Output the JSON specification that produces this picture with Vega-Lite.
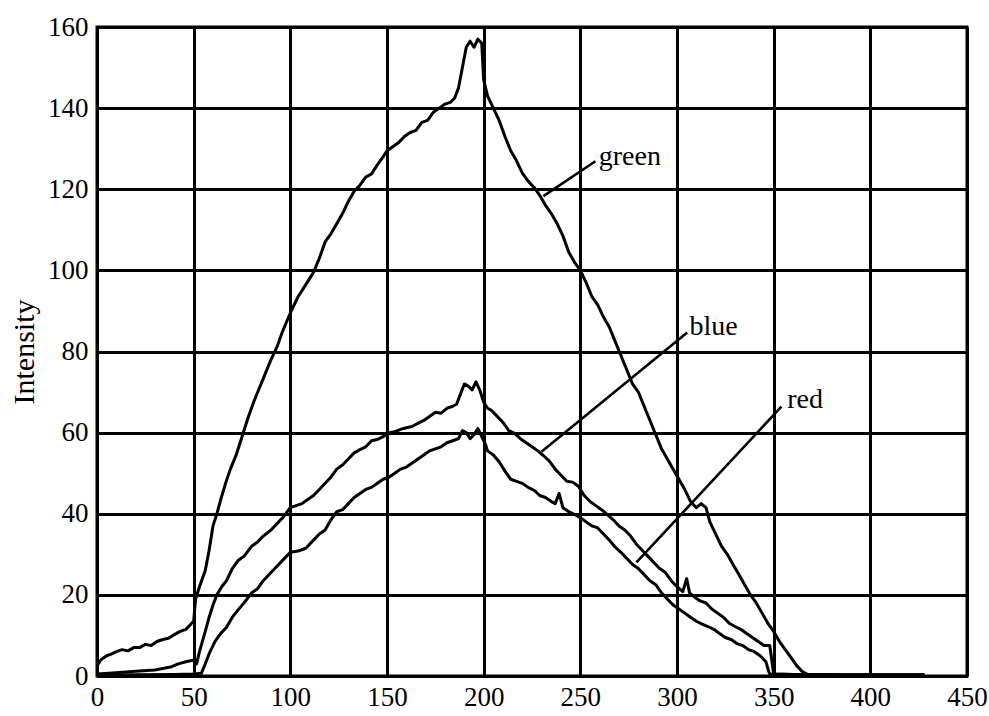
{
  "$schema": "https://vega.github.io/schema/vega-lite/v6.json",
  "width": 870,
  "height": 649,
  "autosize": "none",
  "padding": {"left": 97, "top": 27, "right": 22, "bottom": 40},
  "background": "white",
  "config": {
    "view": {"stroke": "black", "strokeWidth": 3},
    "font": "Liberation Serif",
    "axis": {
      "grid": true,
      "gridColor": "black",
      "gridWidth": 3,
      "gridOpacity": 1,
      "domainColor": "black",
      "domainWidth": 3,
      "ticks": false,
      "tickSize": 0,
      "labelFont": "Liberation Serif",
      "labelFontSize": 27,
      "labelColor": "black",
      "titleFont": "Liberation Serif",
      "titleFontSize": 30,
      "titleFontWeight": "normal",
      "titleColor": "black"
    }
  },
  "datasets": {
    "curves": [
      {"s":"green","x":0,"y":2.5},{"s":"green","x":2,"y":4},{"s":"green","x":5,"y":5},{"s":"green","x":8,"y":5.5},{"s":"green","x":10,"y":6},{"s":"green","x":13,"y":6.5},{"s":"green","x":16,"y":6.2},{"s":"green","x":19,"y":7},{"s":"green","x":22,"y":7},{"s":"green","x":25,"y":7.8},{"s":"green","x":28,"y":7.5},{"s":"green","x":31,"y":8.5},{"s":"green","x":34,"y":9},{"s":"green","x":37,"y":9.3},{"s":"green","x":40,"y":10.2},{"s":"green","x":43,"y":11},{"s":"green","x":46,"y":11.5},{"s":"green","x":49,"y":13},{"s":"green","x":50,"y":13.5},{"s":"green","x":51,"y":19},{"s":"green","x":53,"y":22},{"s":"green","x":56,"y":26},{"s":"green","x":58,"y":31},{"s":"green","x":60,"y":37},{"s":"green","x":62,"y":40},{"s":"green","x":64,"y":43.5},{"s":"green","x":66.5,"y":47.5},{"s":"green","x":69,"y":51},{"s":"green","x":72,"y":54.5},{"s":"green","x":75,"y":59},{"s":"green","x":78,"y":63.5},{"s":"green","x":81,"y":67.5},{"s":"green","x":84,"y":71},{"s":"green","x":87,"y":74.5},{"s":"green","x":90,"y":78},{"s":"green","x":93,"y":81},{"s":"green","x":96,"y":85},{"s":"green","x":100,"y":89.5},{"s":"green","x":104,"y":93.5},{"s":"green","x":108,"y":96.5},{"s":"green","x":112,"y":99.5},{"s":"green","x":115,"y":103},{"s":"green","x":118,"y":107},{"s":"green","x":121,"y":109},{"s":"green","x":124,"y":111.5},{"s":"green","x":127,"y":114},{"s":"green","x":130,"y":117},{"s":"green","x":133,"y":119.5},{"s":"green","x":136,"y":121},{"s":"green","x":139,"y":123},{"s":"green","x":142,"y":123.8},{"s":"green","x":145,"y":126},{"s":"green","x":148,"y":128},{"s":"green","x":150,"y":129.5},{"s":"green","x":153,"y":130.5},{"s":"green","x":156,"y":131.5},{"s":"green","x":159,"y":133},{"s":"green","x":162,"y":134},{"s":"green","x":165,"y":134.5},{"s":"green","x":168,"y":136.5},{"s":"green","x":171,"y":137},{"s":"green","x":174,"y":139},{"s":"green","x":177,"y":140},{"s":"green","x":180,"y":141},{"s":"green","x":183,"y":141.5},{"s":"green","x":185,"y":142.5},{"s":"green","x":187,"y":145},{"s":"green","x":189,"y":150},{"s":"green","x":191,"y":155},{"s":"green","x":193,"y":156.5},{"s":"green","x":195,"y":155},{"s":"green","x":197,"y":157},{"s":"green","x":199,"y":156},{"s":"green","x":200,"y":147},{"s":"green","x":202,"y":143},{"s":"green","x":205,"y":140},{"s":"green","x":208,"y":137},{"s":"green","x":211,"y":133},{"s":"green","x":214,"y":129.5},{"s":"green","x":217,"y":127},{"s":"green","x":220,"y":124},{"s":"green","x":223,"y":122},{"s":"green","x":226,"y":120.5},{"s":"green","x":229,"y":118.5},{"s":"green","x":232,"y":116},{"s":"green","x":235,"y":114},{"s":"green","x":238,"y":111.5},{"s":"green","x":241,"y":108.5},{"s":"green","x":244,"y":104.5},{"s":"green","x":247,"y":102},{"s":"green","x":250,"y":100},{"s":"green","x":253,"y":97},{"s":"green","x":256,"y":93.5},{"s":"green","x":259,"y":91.5},{"s":"green","x":262,"y":88.5},{"s":"green","x":265,"y":86},{"s":"green","x":268,"y":82.5},{"s":"green","x":271,"y":79},{"s":"green","x":274,"y":75.5},{"s":"green","x":277,"y":72},{"s":"green","x":280,"y":70},{"s":"green","x":283,"y":66.5},{"s":"green","x":286,"y":63},{"s":"green","x":289,"y":59.5},{"s":"green","x":292,"y":56},{"s":"green","x":295,"y":53.5},{"s":"green","x":298,"y":51},{"s":"green","x":301,"y":48.5},{"s":"green","x":304,"y":46},{"s":"green","x":307,"y":43},{"s":"green","x":310,"y":41.5},{"s":"green","x":312.5,"y":42.5},{"s":"green","x":315,"y":41.5},{"s":"green","x":317,"y":38},{"s":"green","x":320,"y":35},{"s":"green","x":323,"y":32},{"s":"green","x":326,"y":30},{"s":"green","x":329,"y":27.5},{"s":"green","x":332,"y":25},{"s":"green","x":335,"y":22.5},{"s":"green","x":338,"y":20},{"s":"green","x":341,"y":18},{"s":"green","x":344,"y":15.5},{"s":"green","x":347,"y":13},{"s":"green","x":350,"y":11},{"s":"green","x":353,"y":8.5},{"s":"green","x":356,"y":6.5},{"s":"green","x":359,"y":4.5},{"s":"green","x":362,"y":2.5},{"s":"green","x":365,"y":1},{"s":"green","x":368,"y":0.3},{"s":"green","x":380,"y":0.3},{"s":"green","x":400,"y":0.2},{"s":"green","x":428,"y":0.2},
      {"s":"blue","x":0,"y":0.5},{"s":"blue","x":10,"y":0.8},{"s":"blue","x":20,"y":1.2},{"s":"blue","x":30,"y":1.5},{"s":"blue","x":38,"y":2.2},{"s":"blue","x":42,"y":3},{"s":"blue","x":46,"y":3.5},{"s":"blue","x":49,"y":3.8},{"s":"blue","x":50.5,"y":4},{"s":"blue","x":51.5,"y":3},{"s":"blue","x":53,"y":6},{"s":"blue","x":56,"y":11},{"s":"blue","x":58,"y":14.5},{"s":"blue","x":60,"y":17.5},{"s":"blue","x":62,"y":20},{"s":"blue","x":64.5,"y":22},{"s":"blue","x":67,"y":23.5},{"s":"blue","x":70,"y":26.5},{"s":"blue","x":73,"y":28.5},{"s":"blue","x":76,"y":29.5},{"s":"blue","x":80,"y":32},{"s":"blue","x":83,"y":33},{"s":"blue","x":86,"y":34.5},{"s":"blue","x":90,"y":36},{"s":"blue","x":93,"y":37.5},{"s":"blue","x":96,"y":39},{"s":"blue","x":100,"y":41.5},{"s":"blue","x":103,"y":42},{"s":"blue","x":106,"y":42.5},{"s":"blue","x":109,"y":43.5},{"s":"blue","x":112,"y":44.5},{"s":"blue","x":115,"y":46},{"s":"blue","x":118,"y":47.5},{"s":"blue","x":121,"y":49},{"s":"blue","x":124,"y":51},{"s":"blue","x":127,"y":52},{"s":"blue","x":130,"y":53.5},{"s":"blue","x":133,"y":55},{"s":"blue","x":136,"y":55.8},{"s":"blue","x":139,"y":56.5},{"s":"blue","x":142,"y":58},{"s":"blue","x":145,"y":58.3},{"s":"blue","x":148,"y":59},{"s":"blue","x":151,"y":60},{"s":"blue","x":154,"y":60.2},{"s":"blue","x":157,"y":60.8},{"s":"blue","x":160,"y":61.2},{"s":"blue","x":163,"y":61.5},{"s":"blue","x":166,"y":62.3},{"s":"blue","x":169,"y":63},{"s":"blue","x":172,"y":64},{"s":"blue","x":175,"y":65},{"s":"blue","x":178,"y":64.8},{"s":"blue","x":181,"y":66},{"s":"blue","x":184,"y":66.5},{"s":"blue","x":186,"y":67},{"s":"blue","x":188,"y":69.5},{"s":"blue","x":190,"y":72},{"s":"blue","x":192,"y":71.5},{"s":"blue","x":194,"y":70.5},{"s":"blue","x":196,"y":72.5},{"s":"blue","x":198,"y":70.5},{"s":"blue","x":200,"y":67.5},{"s":"blue","x":202,"y":66},{"s":"blue","x":204,"y":65.5},{"s":"blue","x":207,"y":64},{"s":"blue","x":210,"y":62.5},{"s":"blue","x":213,"y":60.5},{"s":"blue","x":216,"y":59.8},{"s":"blue","x":219,"y":58.5},{"s":"blue","x":222,"y":57.5},{"s":"blue","x":225,"y":56.5},{"s":"blue","x":228,"y":55.5},{"s":"blue","x":231,"y":54.3},{"s":"blue","x":234,"y":53},{"s":"blue","x":237,"y":51},{"s":"blue","x":240,"y":49.5},{"s":"blue","x":243,"y":48},{"s":"blue","x":246,"y":47.8},{"s":"blue","x":249,"y":46.8},{"s":"blue","x":252,"y":44.5},{"s":"blue","x":255,"y":43},{"s":"blue","x":258,"y":42},{"s":"blue","x":261,"y":41},{"s":"blue","x":264,"y":39.8},{"s":"blue","x":267,"y":38.5},{"s":"blue","x":270,"y":37},{"s":"blue","x":273,"y":36},{"s":"blue","x":276,"y":34.5},{"s":"blue","x":279,"y":32.5},{"s":"blue","x":282,"y":31},{"s":"blue","x":285,"y":29.5},{"s":"blue","x":288,"y":28},{"s":"blue","x":291,"y":26.5},{"s":"blue","x":294,"y":25.5},{"s":"blue","x":297,"y":23.5},{"s":"blue","x":300,"y":22},{"s":"blue","x":303,"y":20.8},{"s":"blue","x":305,"y":24},{"s":"blue","x":306.5,"y":20.5},{"s":"blue","x":309,"y":19.5},{"s":"blue","x":312,"y":18.5},{"s":"blue","x":315,"y":18},{"s":"blue","x":318,"y":16.5},{"s":"blue","x":321,"y":15.5},{"s":"blue","x":324,"y":14.5},{"s":"blue","x":327,"y":13},{"s":"blue","x":330,"y":12.2},{"s":"blue","x":333,"y":11.5},{"s":"blue","x":336,"y":10.5},{"s":"blue","x":339,"y":9.5},{"s":"blue","x":342,"y":8.5},{"s":"blue","x":345,"y":7.5},{"s":"blue","x":348,"y":7.5},{"s":"blue","x":349,"y":4},{"s":"blue","x":350,"y":0.5},{"s":"blue","x":360,"y":0.4},{"s":"blue","x":380,"y":0.3},{"s":"blue","x":428,"y":0.3},
      {"s":"red","x":0,"y":0.2},{"s":"red","x":20,"y":0.3},{"s":"red","x":40,"y":0.4},{"s":"red","x":50,"y":0.5},{"s":"red","x":54,"y":0.7},{"s":"red","x":56,"y":3},{"s":"red","x":58,"y":5.5},{"s":"red","x":61,"y":8.5},{"s":"red","x":64,"y":10.5},{"s":"red","x":67,"y":12},{"s":"red","x":70,"y":14.5},{"s":"red","x":73,"y":16.3},{"s":"red","x":76,"y":18},{"s":"red","x":80,"y":20.5},{"s":"red","x":83,"y":21.5},{"s":"red","x":86,"y":23.5},{"s":"red","x":90,"y":25.5},{"s":"red","x":93,"y":27},{"s":"red","x":96,"y":28.5},{"s":"red","x":100,"y":30.5},{"s":"red","x":104,"y":30.8},{"s":"red","x":108,"y":31.5},{"s":"red","x":112,"y":33.5},{"s":"red","x":115,"y":35},{"s":"red","x":118,"y":36},{"s":"red","x":121,"y":38.5},{"s":"red","x":124,"y":40.5},{"s":"red","x":127,"y":41},{"s":"red","x":130,"y":42.5},{"s":"red","x":133,"y":44},{"s":"red","x":136,"y":45},{"s":"red","x":139,"y":46},{"s":"red","x":142,"y":46.5},{"s":"red","x":145,"y":47.5},{"s":"red","x":148,"y":48.5},{"s":"red","x":151,"y":49},{"s":"red","x":154,"y":50},{"s":"red","x":157,"y":51},{"s":"red","x":160,"y":51.5},{"s":"red","x":163,"y":52.5},{"s":"red","x":166,"y":53.5},{"s":"red","x":169,"y":54.5},{"s":"red","x":172,"y":55.5},{"s":"red","x":175,"y":56},{"s":"red","x":178,"y":56.5},{"s":"red","x":181,"y":57.5},{"s":"red","x":184,"y":58},{"s":"red","x":187,"y":58.5},{"s":"red","x":189,"y":60.5},{"s":"red","x":191,"y":60},{"s":"red","x":193,"y":58.5},{"s":"red","x":195,"y":59.5},{"s":"red","x":197,"y":61},{"s":"red","x":199,"y":59},{"s":"red","x":201,"y":57},{"s":"red","x":202,"y":55.5},{"s":"red","x":205,"y":54.5},{"s":"red","x":208,"y":52.8},{"s":"red","x":211,"y":50.5},{"s":"red","x":214,"y":48.5},{"s":"red","x":217,"y":48},{"s":"red","x":220,"y":47.5},{"s":"red","x":223,"y":46.5},{"s":"red","x":226,"y":45.8},{"s":"red","x":229,"y":44.5},{"s":"red","x":232,"y":44},{"s":"red","x":235,"y":43},{"s":"red","x":237,"y":42.5},{"s":"red","x":239,"y":45},{"s":"red","x":241,"y":41.5},{"s":"red","x":244,"y":40.5},{"s":"red","x":247,"y":39.8},{"s":"red","x":250,"y":39},{"s":"red","x":253,"y":38},{"s":"red","x":256,"y":37},{"s":"red","x":259,"y":36.5},{"s":"red","x":262,"y":35},{"s":"red","x":265,"y":33.5},{"s":"red","x":268,"y":31.8},{"s":"red","x":271,"y":30.5},{"s":"red","x":274,"y":29},{"s":"red","x":277,"y":27.5},{"s":"red","x":280,"y":26.5},{"s":"red","x":283,"y":25},{"s":"red","x":286,"y":23.5},{"s":"red","x":289,"y":22.5},{"s":"red","x":292,"y":20.5},{"s":"red","x":295,"y":19},{"s":"red","x":298,"y":17.5},{"s":"red","x":301,"y":16.5},{"s":"red","x":304,"y":15.5},{"s":"red","x":307,"y":14.5},{"s":"red","x":310,"y":13.5},{"s":"red","x":313,"y":12.8},{"s":"red","x":316,"y":12.2},{"s":"red","x":319,"y":11.5},{"s":"red","x":322,"y":10.5},{"s":"red","x":325,"y":9.5},{"s":"red","x":328,"y":9},{"s":"red","x":331,"y":8},{"s":"red","x":334,"y":7.5},{"s":"red","x":337,"y":6.5},{"s":"red","x":340,"y":6},{"s":"red","x":343,"y":5},{"s":"red","x":346,"y":3.5},{"s":"red","x":347.5,"y":1},{"s":"red","x":348,"y":0.5},{"s":"red","x":360,"y":0.4},{"s":"red","x":380,"y":0.3},{"s":"red","x":428,"y":0.3}
    ],
    "leaders": [
      {"label":"green","x":230.9,"y":118.3,"x2":257.8,"y2":126.9,"tx":259.5,"ty":128},
      {"label":"blue","x":229.9,"y":55.3,"x2":305.3,"y2":84.7,"tx":306.5,"ty":86},
      {"label":"red","x":279,"y":28,"x2":354,"y2":66.4,"tx":357,"ty":68}
    ]
  },
  "layer": [
    {
      "data": {"name": "curves"},
      "mark": {"type": "line", "color": "black", "strokeWidth": 3, "strokeJoin": "round", "clip": true},
      "encoding": {
        "x": {"field": "x", "type": "quantitative", "scale": {"domain": [0, 450], "nice": false}, "axis": {"values": [0,50,100,150,200,250,300,350,400,450], "title": null, "labelPadding": 8, "labelFlush": false}},
        "y": {"field": "y", "type": "quantitative", "scale": {"domain": [0, 160], "nice": false}, "axis": {"values": [0,20,40,60,80,100,120,140,160], "title": "Intensity", "labelPadding": 9, "titlePadding": 8}},
        "detail": {"field": "s", "type": "nominal"},
        "order": {"field": "x", "type": "quantitative"}
      }
    },
    {
      "data": {"name": "leaders"},
      "mark": {"type": "rule", "color": "black", "strokeWidth": 2.6},
      "encoding": {
        "x": {"field": "x", "type": "quantitative"},
        "y": {"field": "y", "type": "quantitative"},
        "x2": {"field": "x2"},
        "y2": {"field": "y2"}
      }
    },
    {
      "data": {"name": "leaders"},
      "mark": {"type": "text", "align": "left", "baseline": "middle", "font": "Liberation Serif", "fontSize": 28, "color": "black"},
      "encoding": {
        "x": {"field": "tx", "type": "quantitative"},
        "y": {"field": "ty", "type": "quantitative"},
        "text": {"field": "label", "type": "nominal"}
      }
    }
  ]
}
